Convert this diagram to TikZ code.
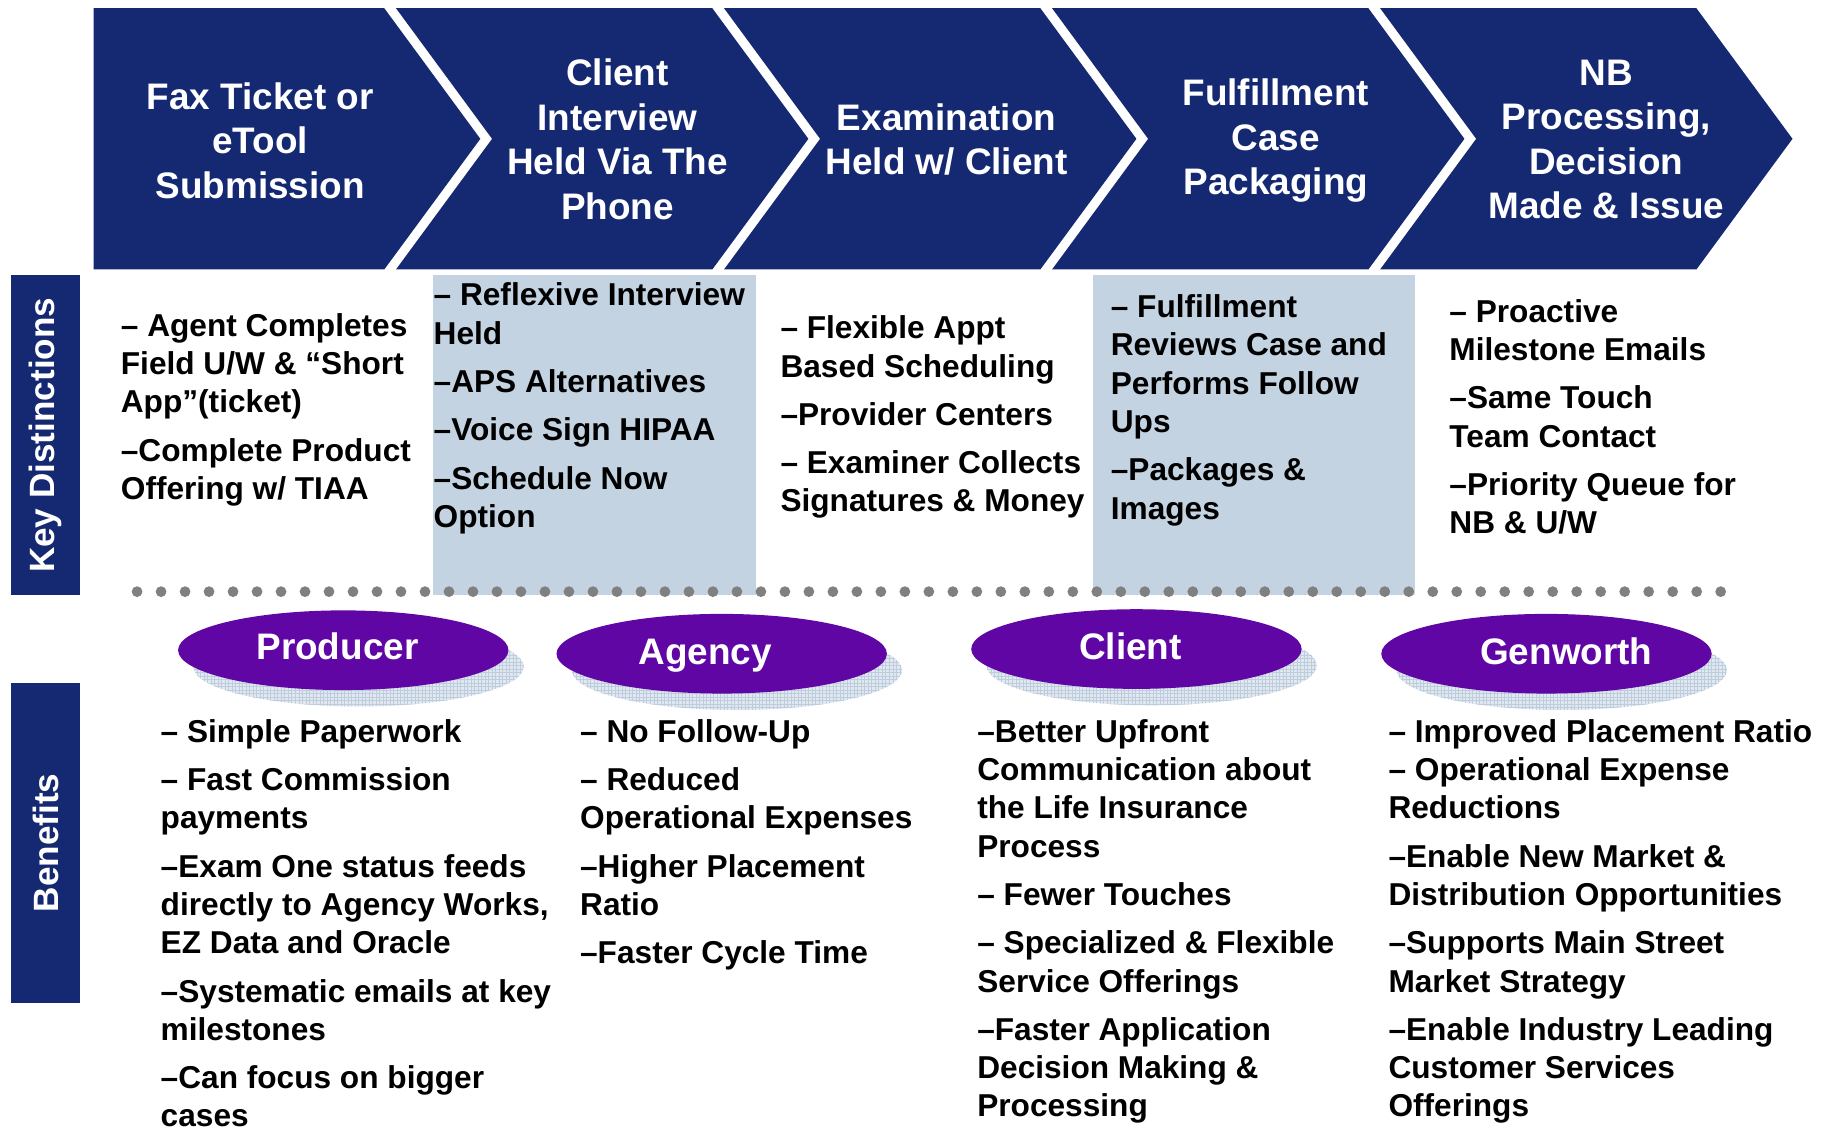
\documentclass[tikz,border=0pt]{standalone}
\usepackage{fontspec}
\setmainfont{Liberation Sans}
\usetikzlibrary{shapes.geometric,shadows,patterns}
\definecolor{navy}{RGB}{21,41,114}
\definecolor{bpurple}{RGB}{96,6,164}
\definecolor{paleblue}{RGB}{195,211,225}
\definecolor{shadowblue}{RGB}{225,232,240}
\definecolor{gridblue}{RGB}{190,205,222}
\definecolor{dotgray}{RGB}{128,128,128}
\newcommand\stepfont{\fontsize{31.5}{38}\selectfont\bfseries}
\newcommand\itemfont{\fontsize{27}{32.7}\selectfont\bfseries}

\begin{document}
\begin{tikzpicture}[
    x=1pt, y=-1pt,
    chevron/.style={fill=navy},
    steptext/.style={text=white, font=\stepfont, align=center, inner sep=0pt},
    sidebox/.style={fill=navy, text=white, font=\fontsize{30}{36}\selectfont\bfseries, rotate=90,
      minimum width=273pt, minimum height=59pt, inner sep=0pt},
    shadebox/.style={fill=paleblue},
    items/.style={anchor=north west, inner sep=0pt, align=left, font=\itemfont},
    group/.style={ellipse, fill=bpurple, minimum width=282pt, minimum height=68pt, inner sep=0pt,
      general shadow={shadow xshift=13pt, shadow yshift=-14pt, fill=shadowblue},
      general shadow={shadow xshift=13pt, shadow yshift=-14pt, pattern=grid, pattern color=gridblue}},
    grouptext/.style={anchor=base, text=white, font=\stepfont, inner sep=0pt}
    ]
    \useasboundingbox (0,0) rectangle (1568,964);
    % process steps
    \fill[chevron] (80,7) -- (328,7) -- (410,118.5) -- (328,230) -- (80,230) -- cycle;
    \foreach \r in {608,888,1168,1448}
      \fill[chevron] (\r-270,7) -- (\r,7) -- (\r+82,118.5) -- (\r,230) -- (\r-270,230) -- (\r-188,118.5) -- cycle;
    \node[steptext] (fax) at (222,120) {Fax Ticket or\\eTool\\Submission};
    \node[steptext] (interview) at (527,119) {Client\\Interview\\Held Via The\\Phone};
    \node[steptext] (exam) at (808,119) {Examination\\Held w/ Client};
    \node[steptext] (fulfil) at (1089,120) {Fulfillment\\Case\\Packaging};
    \node[steptext] (nbproc) at (1371,119) {NB\\Processing,\\Decision\\Made \& Issue};

    % row labels
    \node[sidebox] (keydist) at (39,371.5) {Key Distinctions};
    \node[sidebox] (benefits) at (39,719.5) {Benefits};

    \fill[shadebox] (370,235) rectangle (645,508);
    \fill[shadebox] (933,235) rectangle (1208,508);
    \foreach \k in {0,...,66}
      \fill[dotgray] (117+20.48*\k,505) circle[radius=4.6pt];

    % key distinctions
    \node[items] (kd1) at (103,264) {\strut– Agent Completes\\Field U/W \& “Short\\App”(ticket)\\[8.5pt]–Complete Product\\Offering w/ TIAA};
    \node[items] (kd2) at (370,238) {\strut– Reflexive Interview\\Held\\[8.5pt]–APS Alternatives\\[8.5pt]–Voice Sign HIPAA\\[8.5pt]–Schedule Now\\Option};
    \node[items] (kd3) at (666,266) {\strut– Flexible Appt\\Based Scheduling\\[8.5pt]–Provider Centers\\[8.5pt]– Examiner Collects\\Signatures \& Money};
    \node[items] (kd4) at (948,248) {\strut– Fulfillment\\Reviews Case and\\Performs Follow\\Ups\\[8.5pt]–Packages \&\\Images};
    \node[items] (kd5) at (1237,252) {\strut– Proactive\\Milestone Emails\\[8.5pt]–Same Touch\\Team Contact\\[8.5pt]–Priority Queue for\\NB \& U/W};

    % beneficiaries
    \node[group] (producer) at (293,555) {};
    \node[group] (agency) at (616,558) {};
    \node[group] (client) at (970,554) {};
    \node[group] (genworth) at (1320,558) {};
    \node[grouptext] (producertxt) at (288,563) {Producer};
    \node[grouptext] (agencytxt) at (602,567) {Agency};
    \node[grouptext] (clienttxt) at (965,563) {Client};
    \node[grouptext] (genworthtxt) at (1337,567) {Genworth};

    % benefits
    \node[items] (ben1) at (137,610.5) {\strut– Simple Paperwork\\[8.5pt]– Fast Commission\\payments\\[8.5pt]–Exam One status feeds\\directly to Agency Works,\\EZ Data and Oracle\\[8.5pt]–Systematic emails at key\\milestones\\[8.5pt]–Can focus on bigger\\cases};
    \node[items] (ben2) at (495,610.5) {\strut– No Follow-Up\\[8.5pt]– Reduced\\Operational Expenses\\[8.5pt]–Higher Placement\\Ratio\\[8.5pt]–Faster Cycle Time};
    \node[items] (ben3) at (834,610.5) {\strut–Better Upfront\\Communication about\\the Life Insurance\\Process\\[8.5pt]– Fewer Touches\\[8.5pt]– Specialized \& Flexible\\Service Offerings\\[8.5pt]–Faster Application\\Decision Making \&\\Processing};
    \node[items] (ben4) at (1185,610.5) {\strut– Improved Placement Ratio\\– Operational Expense\\Reductions\\[8.5pt]–Enable New Market \&\\Distribution Opportunities\\[8.5pt]–Supports Main Street\\Market Strategy\\[8.5pt]–Enable Industry Leading\\Customer Services\\Offerings};
\end{tikzpicture}
\end{document}
